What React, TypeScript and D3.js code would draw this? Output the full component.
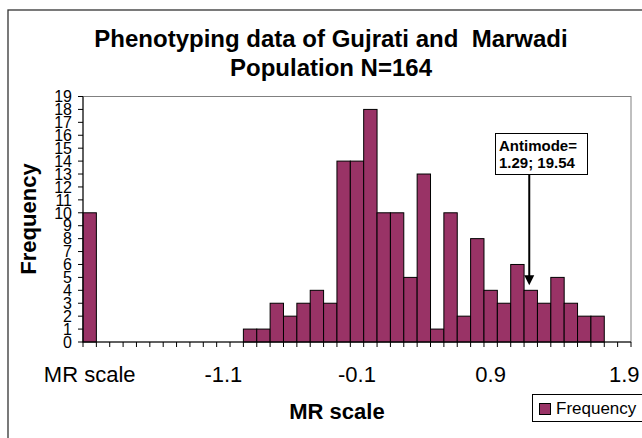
import * as d3 from "d3";
import React from "react";

// categories as in the source sheet (first one is the header cell)
const categories = [
  "MR scale",
  "-2.0", "-1.9", "-1.8", "-1.7", "-1.6", "-1.5", "-1.4", "-1.3", "-1.2", "-1.1",
  "-1.0", "-0.9", "-0.8", "-0.7", "-0.6", "-0.5", "-0.4", "-0.3", "-0.2", "-0.1",
  "0.0", "0.1", "0.2", "0.3", "0.4", "0.5", "0.6", "0.7", "0.8", "0.9",
  "1.0", "1.1", "1.2", "1.3", "1.4", "1.5", "1.6", "1.7", "1.8", "1.9",
];
const frequency = [
  10,
  0, 0, 0, 0, 0, 0, 0, 0, 0, 0,
  0, 1, 1, 3, 2, 3, 4, 3, 14, 14,
  18, 10, 10, 5, 13, 1, 10, 2, 8, 4,
  3, 6, 4, 3, 5, 3, 2, 2, 0, 0,
];
const shownLabels = ["MR scale", "-1.1", "-0.1", "0.9", "1.9"];
const yTicks = d3.range(0, 20);
const antimode = { category: "1.2", value: 4.4, lines: ["Antimode=", "1.29; 19.54"] };

const FONT = "'Liberation Sans', Arial, Helvetica, sans-serif";
const BAR = "#993366";

export default function App() {
  const width = 642;
  const height = 438;
  const marginLeft = 83;
  const marginRight = 11;
  const marginTop = 96.5;
  const baseline = 342;

  const x = d3
    .scaleBand<string>()
    .domain(categories)
    .range([marginLeft, width - marginRight])
    .padding(0);
  const y = d3.scaleLinear([0, 19], [baseline, marginTop]);
  const bw = x.bandwidth();

  const arrowX = (x(antimode.category) ?? 0) + bw / 2 - 1.5;
  const arrowTip = y(antimode.value);

  return (
    <svg
      width={width}
      height={height}
      style={{ position: "absolute", left: 0, top: 0, background: "#fff" }}
      fontFamily={FONT}
    >
      {/* chart area border */}
      <rect x={8} y={10} width={700} height={500} fill="#fff" stroke="#333" strokeWidth={1.3} />

      {/* title */}
      <text textAnchor="middle" fontWeight="bold" fontSize={24}>
        <tspan x={331} y={47} style={{ whiteSpace: "pre" }}>
          {"Phenotyping data of Gujrati and  Marwadi"}
        </tspan>
        <tspan x={331} y={76}>Population N=164</tspan>
      </text>

      {/* plot area frame */}
      <rect
        x={marginLeft}
        y={marginTop}
        width={width - marginRight - marginLeft}
        height={baseline - marginTop}
        fill="#fff"
        stroke="#808080"
        strokeWidth={1}
      />

      {/* bars */}
      <g fill={BAR} stroke="#000" strokeWidth={1}>
        {categories.map((c, i) =>
          frequency[i] > 0 ? (
            <rect
              key={c}
              x={x(c)}
              y={y(frequency[i])}
              width={bw}
              height={baseline - y(frequency[i])}
            />
          ) : null
        )}
      </g>

      {/* y-axis */}
      <g fontSize={16} textAnchor="end">
        <line x1={marginLeft} x2={marginLeft} y1={marginTop} y2={baseline} stroke="#000" />
        {yTicks.map((t) => (
          <g key={t} transform={`translate(0,${y(t)})`}>
            <line x1={marginLeft - 5} x2={marginLeft} stroke="#000" />
            <text x={72} dy="0.36em" fill="#000">
              {t}
            </text>
          </g>
        ))}
      </g>

      {/* x-axis */}
      <g>
        <line x1={marginLeft} x2={width - marginRight} y1={baseline} y2={baseline} stroke="#000" />
        {categories.concat(["__end"]).map((c, i) => {
          const px = marginLeft + i * bw;
          return <line key={c} x1={px} x2={px} y1={baseline} y2={baseline + 5} stroke="#000" />;
        })}
        {shownLabels.map((c) => (
          <text
            key={c}
            x={(x(c) ?? 0) + bw / 2}
            y={382}
            textAnchor="middle"
            fontSize={22}
            fill="#000"
          >
            {c}
          </text>
        ))}
      </g>

      {/* axis titles */}
      <text x={337} y={419} textAnchor="middle" fontWeight="bold" fontSize={22}>
        MR scale
      </text>
      <text
        transform="translate(36,219) rotate(-90)"
        textAnchor="middle"
        fontWeight="bold"
        fontSize={22}
      >
        Frequency
      </text>

      {/* antimode annotation */}
      <g>
        <line x1={arrowX} x2={arrowX} y1={174} y2={arrowTip - 7} stroke="#000" strokeWidth={2} />
        <path
          d={`M${arrowX - 5},${arrowTip - 10} L${arrowX + 5},${arrowTip - 10} L${arrowX},${arrowTip} Z`}
          fill="#000"
        />
        <rect x={495.5} y={133.5} width={92} height={41} fill="#fff" stroke="#000" strokeWidth={1} />
        {antimode.lines.map((l, i) => (
          <text key={l} x={499} y={151 + i * 16.5} fontSize={15} fontWeight="bold">
            {l}
          </text>
        ))}
      </g>

      {/* legend */}
      <g>
        <rect x={532.5} y={394.5} width={110} height={27} fill="#fff" stroke="#000" strokeWidth={1} />
        <rect x={539.5} y={403.5} width={11} height={11} fill={BAR} stroke="#000" strokeWidth={1} />
        <text x={556} y={414} fontSize={17}>
          Frequency
        </text>
      </g>
    </svg>
  );
}
